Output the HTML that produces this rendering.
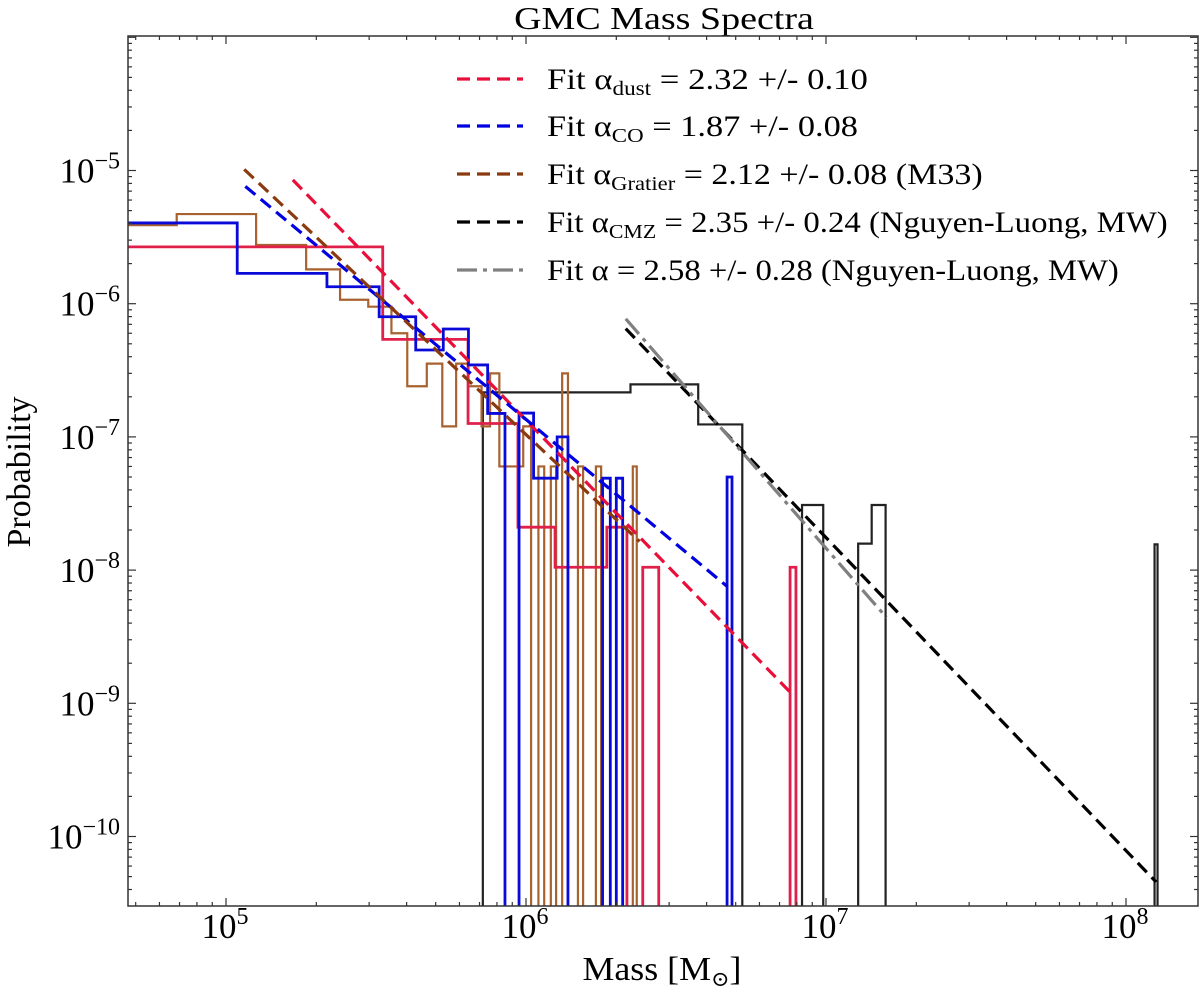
<!DOCTYPE html>
<html><head><meta charset="utf-8"><style>
html,body{margin:0;padding:0;background:#fff;}
svg{display:block;font-family:"Liberation Serif","DejaVu Serif",serif;}
</style></head><body>
<svg id="chart" width="1200" height="990" viewBox="0 0 1200 990" xmlns="http://www.w3.org/2000/svg">
<defs><clipPath id="plotclip"><rect x="128" y="36" width="1070" height="870"/></clipPath></defs>
<text id="title" x="664" y="29" font-size="32" text-anchor="middle">GMC Mass Spectra</text>
<g id="hists" clip-path="url(#plotclip)"></g>
<g id="fits" clip-path="url(#plotclip)"></g>
<g id="axes"></g>
<g id="legend"></g>
<text id="xtitle" x="662" y="980" font-size="34" text-anchor="middle">Mass [M<tspan font-size="21" dy="6">⊙</tspan><tspan dy="-6">]</tspan></text>
<text id="ytitle" transform="translate(30,472) rotate(-90)" font-size="34" text-anchor="middle">Probability</text>
</svg>
<script>
// ---- data ----
const redEdges = [3e4, 3.33e5, 6.41e5, 9.4e5, 1.25e6, 1.86e6, 2.17e6, 2.45e6, 2.77e6, 7.59e6, 7.94e6];
const redValues = [2.67e-6, 5.4e-7, 1.26e-7, 2.1e-8, 1.05e-8, 2.1e-8, 0, 1.05e-8, 0, 1.05e-8];
const blueEdges = [3e4, 1.09e5, 2.17e5, 3.24e5, 4.29e5, 5.3e5, 6.43e5, 7.45e5, 8.51e5, 9.48e5, 1.06e6, 1.27e6, 1.38e6, 1.8e6, 1.91e6, 2.0e6, 2.1e6, 4.68e6, 4.86e6];
const blueValues = [4.04e-6, 1.69e-6, 1.34e-6, 7.98e-7, 4.49e-7, 6.46e-7, 3.47e-7, 1.5e-7, 0, 1.51e-7, 4.9e-8, 1e-7, 0, 4.9e-8, 0, 4.9e-8, 0, 5.0e-8];
const brownEdges = [3e4, 6.85e4, 1.26e5, 1.85e5, 2.4e5, 2.98e5, 3.56e5, 4.02e5, 4.67e5, 5.26e5, 5.85e5, 6.43e5, 7.11e5, 7.59e5, 8.15e5, 9.79e5, 1.04e6, 1.1e6, 1.15e6, 1.21e6, 1.26e6, 1.32e6, 1.38e6, 1.49e6, 1.55e6, 1.71e6, 1.78e6, 2.27e6, 2.34e6];
const brownValues = [3.89e-6, 4.71e-6, 2.76e-6, 1.81e-6, 1.07e-6, 9.5e-7, 6.0e-7, 2.4e-7, 3.55e-7, 1.2e-7, 3.55e-7, 2.4e-7, 1.2e-7, 3.0e-7, 6.0e-8, 1.2e-7, 0, 6.0e-8, 0, 6.0e-8, 0, 3.0e-7, 0, 6.0e-8, 0, 6.0e-8, 0, 6.0e-8];
const cmzEdges = [7.18e5, 2.23e6, 3.75e6, 5.26e6, 8.32e6, 9.79e6, 1.28e7, 1.42e7, 1.58e7, 1.245e8, 1.274e8];
const cmzValues = [2.16e-7, 2.48e-7, 1.24e-7, 0, 3.08e-8, 0, 1.58e-8, 3.08e-8, 0, 1.56e-8];
const fitNames = ["fit-dust", "fit-co", "fit-gratier", "fit-cmz", "fit-nguyen"];
const fitAlpha = [2.32, 1.87, 2.12, 2.35, 2.58];
const fitStartMass = [1.67e5, 1.16e5, 1.15e5, 2.15e6, 2.15e6];
const fitEndMass = [7.83e6, 4.7e6, 2.39e6, 1.26e8, 1.59e7];
const fitStartProb = [8.5e-6, 7.6e-6, 1.02e-5, 6.5e-7, 7.7e-7];
const legendLabels = [["Fit α","dust"," = 2.32 +/- 0.10"],["Fit α","CO"," = 1.87 +/- 0.08"],["Fit α","Gratier"," = 2.12 +/- 0.08 (M33)"],["Fit α","CMZ"," = 2.35 +/- 0.24 (Nguyen-Luong, MW)"],["Fit α",""," = 2.58 +/- 0.28 (Nguyen-Luong, MW)"]];
const xTickLabels = ["5","6","7","8"];
const yTickLabels = ["-10","-9","-8","-7","-6","-5"];

// ---- axes functions ----
const L=128,R=1198,T=36,B=906;
function x(m){return 226+(Math.log10(m)-5)*300;}
function y(p){ if(p<=0) return B+20; return 170.5+(-5-Math.log10(p))*133.2;}
const NS="http://www.w3.org/2000/svg";
function mk(tag,attrs,parent){const e=document.createElementNS(NS,tag);for(const k in attrs)e.setAttribute(k,attrs[k]);parent.appendChild(e);return e;}
function fitWidth(el,target,ax,ay){const w=el.getComputedTextLength?el.getComputedTextLength():0;if(w>0){const s=target/w;el.setAttribute('transform','translate('+ax+','+ay+') scale('+s+',1) translate('+(-ax)+','+(-ay)+')');}}

// ---- histograms ----
const hg=document.getElementById('hists');
function hist(edges,vals,color,w,name){
  let d="M"+x(edges[0])+","+(B+20);
  for(let i=0;i<vals.length;i++){d+=" L"+x(edges[i])+","+y(vals[i])+" L"+x(edges[i+1])+","+y(vals[i]);}
  d+=" L"+x(edges[edges.length-1])+","+(B+20);
  const p=mk('path',{d:d,fill:'none',stroke:color,'stroke-width':w,'stroke-linejoin':'miter'},hg);
  
  
}
hist(cmzEdges,cmzValues,'#222222',2.2,'hist-cmz');
hist(brownEdges,brownValues,'#a8622f',2.2,'hist-gratier');
hist(redEdges,redValues,'#e0204a',2.8,'hist-dust');
hist(blueEdges,blueValues,'#0a0ad8',2.8,'hist-co');

// ---- fits ----
const fg=document.getElementById('fits');
const fitColors=['#e8103a','#0000e0','#8b3a0f','#000000','#808080'];
const fitDash=['13,7','13,7','13,7','13,7','20,6,4,6'];
for(let i=0;i<fitAlpha.length;i++){
  const p1=fitStartProb[i]*Math.pow(fitEndMass[i]/fitStartMass[i],-fitAlpha[i]);
  const l=mk('line',{x1:x(fitStartMass[i]),y1:y(fitStartProb[i]),x2:x(fitEndMass[i]),y2:y(p1),stroke:fitColors[i],'stroke-width':3.2,'stroke-dasharray':fitDash[i]},fg);
  
  
}

// ---- axes ----
const ag=document.getElementById('axes');
const frame=mk('rect',{x:L,y:T,width:R-L,height:B-T,fill:'none',stroke:'#333','stroke-width':1.5},ag);


for(let dcd=4;dcd<=8;dcd++){
  for(let k=1;k<10;k++){
    const m=k*Math.pow(10,dcd); const xx=x(m);
    if(xx<L||xx>R) continue;
    const len=k===1?8:4;
    mk('line',{x1:xx,y1:B,x2:xx,y2:B-len,stroke:'#333','stroke-width':1.2},ag);
    mk('line',{x1:xx,y1:T,x2:xx,y2:T+len,stroke:'#333','stroke-width':1.2},ag);
  }
}
xTickLabels.forEach(function(s){
  const xx=x(Math.pow(10,+s));
  const t=mk('text',{x:xx-1,y:938,'font-size':35,'text-anchor':'middle'},ag);
  
  
  t.textContent='10';
  const sup=mk('tspan',{dy:-14,'font-size':24},t); sup.textContent=s;
});
for(let dcd=-11;dcd<=-4;dcd++){
  for(let k=1;k<10;k++){
    const p=k*Math.pow(10,dcd); const yy=y(p);
    if(yy<T-0.5||yy>B) continue;
    const len=k===1?8:4;
    mk('line',{x1:L,y1:yy,x2:L+len,y2:yy,stroke:'#333','stroke-width':1.2},ag);
    mk('line',{x1:R,y1:yy,x2:R-len,y2:yy,stroke:'#333','stroke-width':1.2},ag);
  }
}
yTickLabels.forEach(function(s){
  const yy=y(Math.pow(10,+s));
  const t=mk('text',{x:120,y:yy+12,'font-size':35,'text-anchor':'end'},ag);
  
  
  const a=mk('tspan',{},t); a.textContent='10';
  const sup=mk('tspan',{dy:-14,'font-size':24},t); sup.textContent='−'+s.slice(1);
});

// ---- legend ----
const lg=document.getElementById('legend');
const rowY=[79,126,174,222,270];
const rowW=[321,311,436,621,572];
for(let i=0;i<legendLabels.length;i++){
  const l=mk('line',{x1:457,y1:rowY[i],x2:523,y2:rowY[i],stroke:fitColors[i],'stroke-width':3.2,'stroke-dasharray':fitDash[i]},lg);
  
  
  const t=mk('text',{x:547,y:rowY[i]+10,'font-size':30},lg);
  
  
  const a=mk('tspan',{},t); a.textContent=legendLabels[i][0];
  if(legendLabels[i][1]){const s=mk('tspan',{dy:6,'font-size':20},t); s.textContent=legendLabels[i][1];
    const r=mk('tspan',{dy:-6},t); r.textContent=legendLabels[i][2];}
  else {const r=mk('tspan',{},t); r.textContent=legendLabels[i][2];}
  fitWidth(t,rowW[i],547,rowY[i]);
}
fitWidth(document.getElementById('title'),300,664,29);
fitWidth(document.getElementById('xtitle'),159,662,980);
</script>
</body></html>
